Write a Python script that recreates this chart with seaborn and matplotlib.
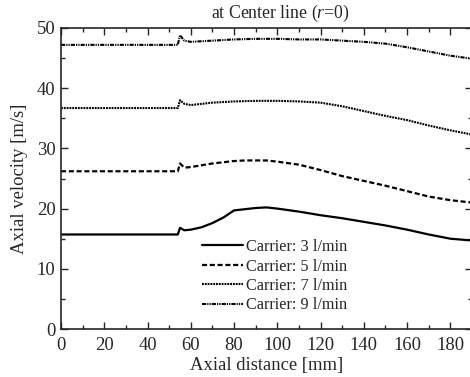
import numpy as np
import pandas as pd
import seaborn as sns
import matplotlib.pyplot as plt
from matplotlib.ticker import MultipleLocator

sns.set_theme(style="ticks")
plt.rcParams.update({
    "font.family": ["Liberation Serif", "DejaVu Serif"],
    "mathtext.fontset": "custom",
    "mathtext.it": "Liberation Serif:italic",
    "mathtext.rm": "Liberation Serif",
    "axes.unicode_minus": False,
})

# axial distance [mm]
x = [0, 10, 20, 30, 40, 50, 54, 55, 57, 60, 65, 70, 75, 80, 85, 90, 95, 100,
     110, 120, 130, 140, 150, 160, 170, 180, 190]
# axial velocity [m/s] at the center line
v3 = [15.7, 15.7, 15.7, 15.7, 15.7, 15.7, 15.7, 16.8, 16.4, 16.5, 16.9, 17.6, 18.5,
      19.7, 19.9, 20.1, 20.2, 20.0, 19.5, 18.9, 18.4, 17.8, 17.2, 16.5, 15.7, 15.0, 14.7]
v5 = [26.2, 26.2, 26.2, 26.2, 26.2, 26.2, 26.2, 27.5, 26.8, 26.9, 27.2, 27.5, 27.7,
      27.9, 28.0, 28.0, 28.0, 27.8, 27.3, 26.4, 25.4, 24.6, 23.8, 22.9, 22.0, 21.4, 21.0]
v7 = [36.7, 36.7, 36.7, 36.7, 36.7, 36.7, 36.7, 38.0, 37.4, 37.2, 37.4, 37.6, 37.7,
      37.8, 37.85, 37.9, 37.9, 37.9, 37.8, 37.6, 37.0, 36.2, 35.4, 34.7, 33.8, 33.0, 32.3]
v9 = [47.2, 47.2, 47.2, 47.2, 47.2, 47.2, 47.2, 48.8, 47.9, 47.7, 47.8, 47.9, 48.0,
      48.1, 48.15, 48.2, 48.2, 48.2, 48.1, 48.1, 47.9, 47.7, 47.4, 46.8, 46.1, 45.4, 44.9]
labels = ["Carrier: 3 l/min", "Carrier: 5 l/min", "Carrier: 7 l/min", "Carrier: 9 l/min"]

series = [v3, v5, v7, v9]
styles = [
    dict(lw=1.6, ls="-"),
    dict(lw=1.6, ls=(0, (2.3, 1.2))),
    dict(lw=1.5, ls=(0, (0.9, 0.45))),
    dict(lw=1.5, ls=(0, (2.0, 0.5, 0.6, 0.5, 0.6, 0.5))),
]

fig = plt.figure(figsize=(4.70, 3.77), dpi=100)
ax = fig.add_axes([61 / 470, 1 - 329 / 377, 411 / 470, 301 / 377])

for vals, lab, st in zip(series, labels, styles):
    df = pd.DataFrame({"x": x, "v": vals})
    sns.lineplot(data=df, x="x", y="v", ax=ax, color="black", label=lab,
                 linewidth=st["lw"], linestyle=st["ls"])

ax.set_xlim(0, 190)
ax.set_ylim(0, 50)
ax.xaxis.set_major_locator(MultipleLocator(20))
ax.xaxis.set_minor_locator(MultipleLocator(10))
ax.yaxis.set_major_locator(MultipleLocator(10))
ax.yaxis.set_minor_locator(MultipleLocator(5))
ax.tick_params(which="both", direction="in", top=True, right=True, labelsize=13.4,
               width=1.0)
ax.tick_params(axis="x", pad=6)
ax.tick_params(axis="y", pad=4)
ax.tick_params(which="major", length=5)
ax.tick_params(which="minor", length=3)
for sp in ax.spines.values():
    sp.set_linewidth(1.2)

ax.set_xlabel("Axial distance [mm]", fontsize=13.4, labelpad=2)
ax.set_ylabel("Axial velocity [m/s]", fontsize=13.4, labelpad=6)
ax.text(101.5, 1.012, "at Center line ($r$=0)", transform=ax.get_xaxis_transform(),
        ha="center", va="bottom", fontsize=12.8)

leg = ax.legend(loc="upper left", bbox_to_anchor=(0.327, 0.32), frameon=False,
                fontsize=11.7, handlelength=2.55, handletextpad=0.15,
                labelspacing=0.21, borderaxespad=0)
for h in leg.get_lines():
    h.set_color("black")

fig.savefig("out.png", dpi=100)
